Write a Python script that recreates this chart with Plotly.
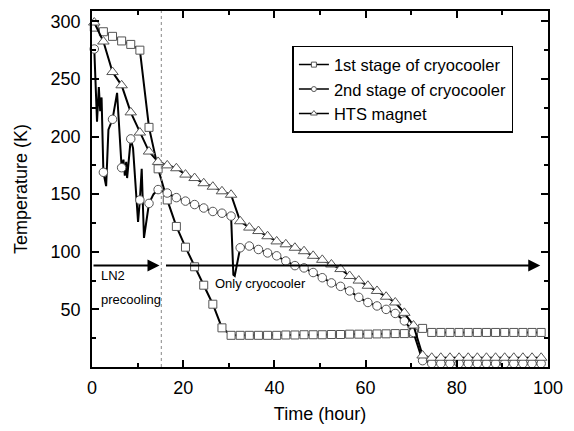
import plotly.graph_objects as go

# ---------------- data ----------------
time_grid = [0.5, 2.5, 4.5, 6.5, 8.5, 10.5, 12.5, 14.5, 16.5, 18.5,
             20.5, 22.5, 24.5, 26.5, 28.5, 30.5, 32.5, 34.5, 36.5, 38.5,
             40.5, 42.5, 44.5, 46.5, 48.5, 50.5, 52.5, 54.5, 56.5, 58.5,
             60.5, 62.5, 64.5, 66.5, 68.5, 70.5, 72.5, 74.5, 76.5, 78.5,
             80.5, 82.5, 84.5, 86.5, 88.5, 90.5, 92.5, 94.5, 96.5, 98.5]

stage1_T = [295, 291, 287, 283, 280, 275, 208, 172, 145, 122,
            104, 87, 71, 54.5, 34, 27.5, 27.5, 27.5, 27.5, 27.5,
            27.5, 27.8, 27.8, 28, 28, 28, 28.2, 28.2, 28.5, 28.5,
            28.5, 28.7, 28.8, 29, 29, 29.2, 33.5, 30, 30, 30,
            30, 30, 30, 30, 30, 30, 30, 30, 30, 30]

magnet_T = [299, 282.5, 256, 244.5, 221, 203.5, 187, 178, 175, 172.5,
            167, 164, 159.5, 156.5, 152.5, 149.5, 126.5, 121, 118, 113.5,
            109, 106.5, 103.5, 100.5, 96.5, 93, 89, 85, 79, 75,
            70.5, 66, 61, 56, 47, 36, 10, 8, 8, 8,
            8, 8, 8, 8, 8, 8, 8, 8, 8, 8]

# 2nd stage: full recorded curve (includes fast transients between markers)
stage2_x = [0.5, 1.1, 1.5, 1.8, 2.1, 2.5, 3.1, 3.6, 4.5, 5.5,
            6.5, 6.9, 7.2, 7.5, 7.7, 8.5, 9.0, 9.8, 10.1, 10.5,
            10.9, 11.4, 12.5, 13.5, 14.5, 16.5, 18.5, 20.5, 22.5, 24.5,
            26.5, 28.5, 30.5, 31.0, 31.3, 32.5, 34.5, 36.5, 38.5, 40.5,
            42.5, 44.5, 46.5, 48.5, 50.5, 52.5, 54.5, 56.5, 58.5, 60.5,
            62.5, 64.5, 66.5, 68.5, 70.5, 72.5, 74.5, 76.5, 78.5, 80.5,
            82.5, 84.5, 86.5, 88.5, 90.5, 92.5, 94.5, 96.5, 98.5]
stage2_T = [276, 213, 243, 222, 234, 169, 157, 206, 215, 238,
            173, 180, 166, 178, 164, 198, 190, 138, 126, 145,
            172, 112, 142, 150, 154, 151, 147, 144, 141, 138,
            135, 133.5, 131, 80, 79, 103.5, 105, 102, 99, 96.5,
            92, 88, 86, 82, 77.5, 73, 70, 66, 60.5, 56,
            53, 50, 46.5, 40, 30, 5.5, 3, 3, 3, 3,
            3, 3, 3, 3, 3, 3, 3, 3, 3]

series_names = ["1st stage of cryocooler", "2nd stage of cryocooler", "HTS magnet"]

# annotation data
arrow_T = 88
ln2_arrow = (0, 14.8)
cryo_arrow = (15.9, 98.3)
switch_time = 15.2
x_ticks = [0, 20, 40, 60, 80, 100]
x_minor = [10, 30, 50, 70, 90]
y_ticks = [50, 100, 150, 200, 250, 300]
y_minor = [25, 75, 125, 175, 225, 275]

FONT = "Liberation Sans, Arial, sans-serif"
MK_EDGE = "#555555"

fig = go.Figure()

# marker points of stage 2 are those on the regular logging grid
s2_mx = [x for x in stage2_x if x in time_grid]
s2_my = [t for x, t in zip(stage2_x, stage2_T) if x in time_grid]

def add_series(xl, yl, xm, ym, symbol, size):
    fig.add_trace(go.Scatter(x=xl, y=yl, mode="lines",
                             line=dict(color="black", width=2),
                             showlegend=False, hoverinfo="skip"))
    fig.add_trace(go.Scatter(x=xm, y=ym, mode="markers",
                             marker=dict(symbol=symbol, size=size, color="white",
                                         line=dict(color=MK_EDGE, width=1)),
                             showlegend=False, cliponaxis=False))

add_series(time_grid, stage1_T, time_grid, stage1_T, "square", 8)
add_series(stage2_x, stage2_T, s2_mx, s2_my, "circle", 8.5)
add_series(time_grid, magnet_T, time_grid, magnet_T, "triangle-up", 10)

# legend entries
for name, sym, sz in zip(series_names, ["square", "circle", "triangle-up"], [5, 5, 6]):
    fig.add_trace(go.Scatter(x=[None], y=[None], mode="lines+markers", name=name,
                             line=dict(color="black", width=1.5),
                             marker=dict(symbol=sym, size=sz, color="white",
                                         line=dict(color=MK_EDGE, width=1))))

# dotted switch line
fig.add_shape(type="line", x0=switch_time, x1=switch_time, y0=0, y1=1,
              xref="x", yref="paper",
              line=dict(color="#888888", width=1, dash="dot"))

# arrows
for (x0, x1) in [ln2_arrow, cryo_arrow]:
    fig.add_annotation(x=x1, y=arrow_T, ax=x0, ay=arrow_T,
                       xref="x", yref="y", axref="x", ayref="y",
                       text="", showarrow=True, arrowhead=2, arrowsize=1.2,
                       arrowwidth=2, arrowcolor="black", standoff=0, startstandoff=0)

txt_font = dict(family=FONT, size=13, color="black")
fig.add_annotation(x=1.5, y=79, text="LN2", showarrow=False, xanchor="left",
                   yanchor="middle", font=txt_font)
fig.add_annotation(x=1.5, y=59, text="precooling", showarrow=False, xanchor="left",
                   yanchor="middle", font=txt_font)
fig.add_annotation(x=26.5, y=72.7, text="Only cryocooler", showarrow=False,
                   xanchor="left", yanchor="middle", font=txt_font)

axis_common = dict(showline=True, linecolor="black", linewidth=1.5, mirror="ticks",
                   ticks="inside", ticklen=7, tickwidth=1.5, tickcolor="black",
                   showgrid=False, zeroline=False,
                   tickfont=dict(family=FONT, size=18, color="black"),
                   title_font=dict(family=FONT, size=18, color="black"))

fig.update_xaxes(range=[0, 100], tickmode="array", tickvals=x_ticks,
                 minor=dict(tickmode="array", tickvals=x_minor, ticks="inside",
                            ticklen=4, tickwidth=1.5, tickcolor="black"),
                 title_text="Time (hour)", title_standoff=10,
                 ticklabelstandoff=4, **axis_common)
fig.update_yaxes(range=[0, 309], tickmode="array", tickvals=y_ticks,
                 minor=dict(tickmode="array", tickvals=y_minor, ticks="inside",
                            ticklen=4, tickwidth=1.5, tickcolor="black"),
                 title_text="Temperature (K)", title_standoff=18,
                 ticklabelstandoff=6, **axis_common)

fig.update_layout(
    width=574, height=431,
    margin=dict(l=92, r=26, t=9, b=64),
    paper_bgcolor="white", plot_bgcolor="white",
    font=dict(family=FONT, color="black"),
    legend=dict(x=0.4395, y=0.902, xanchor="left", yanchor="top",
                bordercolor="black", borderwidth=1.5, bgcolor="white",
                font=dict(family=FONT, size=16.5, color="black"),
                tracegroupgap=0, itemwidth=30),
)

fig.write_html("out.html")
